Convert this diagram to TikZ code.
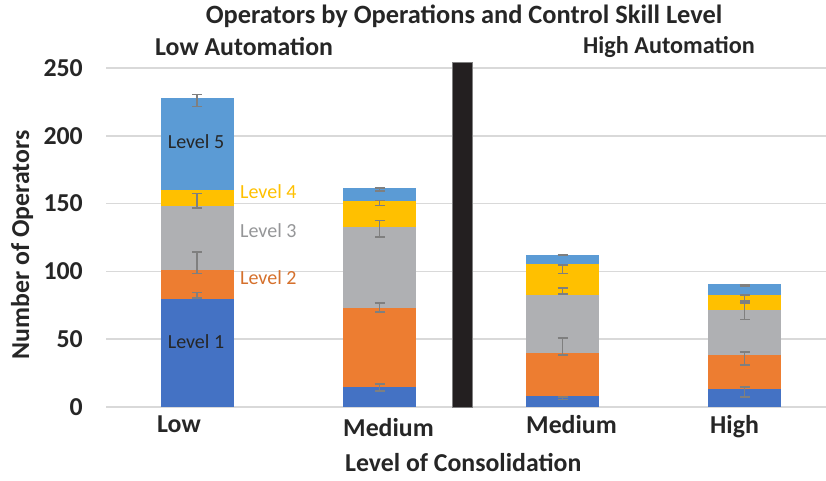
\documentclass[tikz,border=0pt]{standalone}
\usepackage{fontspec}
\setmainfont{Carlito}
\usetikzlibrary{arrows.meta,positioning}
\definecolor{lvlone}{HTML}{4472C4}
\definecolor{lvltwo}{HTML}{ED7D31}
\definecolor{lvlthree}{HTML}{AFB0B3}
\definecolor{lvlfour}{HTML}{FFC000}
\definecolor{lvlfive}{HTML}{5B9BD5}
\definecolor{gridgray}{HTML}{D9D9D9}
\definecolor{errgray}{HTML}{7F7F7F}
\definecolor{inktext}{HTML}{262626}
\definecolor{sepblack}{HTML}{231F20}

\begin{document}
\begin{tikzpicture}[
x=1pt,y=-1pt,
big/.style={
	font=\fontsize{25.8}{28}\selectfont\bfseries,
	text=inktext,
	inner sep=0pt
},
lvl/.style={
	font=\fontsize{20}{22}\selectfont,
	inner sep=0pt
},
grid/.style={
	draw=gridgray,
	line width=1.5pt
},
errbar/.style={
	draw=errgray,
	line width=1.6pt,
	{Bar[width=10pt]}-{Bar[width=10pt]}
}
]
\useasboundingbox (0,0) rectangle (826,480);

% axes and grid, data units inside the scope
\begin{scope}[shift={(0,407)},y=1.356pt]
\foreach \v in {0,50,...,250}
{
\draw[grid] (106,\v) -- (826,\v);
\node[big,anchor=east] (t\v) at (83,\v) {\v};
}

\foreach \c/\a/\b/\d/\e/\f in {197/80/101/148/160/228,379.5/15/73/133/152/161.5,562.5/8/40/82.6/105.5/112,744.5/13.3/38/71.5/82.6/90.7}
{
\fill[lvlone] (\c-36.5,0) rectangle (\c+36.5,\a);
\fill[lvltwo] (\c-36.5,\a) rectangle (\c+36.5,\b);
\fill[lvlthree] (\c-36.5,\b) rectangle (\c+36.5,\d);
\fill[lvlfour] (\c-36.5,\d) rectangle (\c+36.5,\e);
\fill[lvlfive] (\c-36.5,\e) rectangle (\c+36.5,\f);
}

\foreach \c/\lo/\hi in {197/221/231,197/146/158,197/98/115,197/80/85,
379.5/158.5/162,379.5/148/153,379.5/125/138,379.5/69.3/77.4,379.5/11/17.7,
562.5/111.3/113,562.5/98/105.5,562.5/82.6/88.5,562.5/37.6/51.6,562.5/5/8,
744.5/88.5/90.7,744.5/77.4/83.3,744.5/64/77.4,744.5/30.2/41.3,744.5/6.6/15.5}
\draw[errbar] (\c,\lo) -- (\c,\hi);

%\draw[grid] (106,0) -- (826,0);
\fill[sepblack,draw=gray,line width=1pt] (452,0) rectangle (472,254);
\end{scope}

\node[lvl,text=inktext] (lfive) at (196,142) {Level 5};
\node[lvl,text=lvlfour,anchor=west] (lfour) at (240,192) {Level 4};
\node[lvl,text=lvlthree!85!black,anchor=west] (lthree) at (240,231) {Level 3};
\node[lvl,text=lvltwo!90!black,anchor=west] (ltwo) at (240,278) {Level 2};
\node[lvl,text=inktext] (lone) at (196,342) {Level 1};

\node[big,font=\fontsize{26.4}{28}\selectfont\bfseries] (title) at (464,16) {Operators by Operations and Control Skill Level};
\node[big,anchor=west] (lowauto) at (155,47) {Low Automation};
\node[big,anchor=west,font=\fontsize{24.2}{28}\selectfont\bfseries] (highauto) at (583,47) {High Automation};

\node[big,anchor=base west] (clow) at (157,432) {Low};
\node[big,anchor=base west] (cmedl) at (343,436) {Medium};
\node[big,anchor=base west] (cmedh) at (526,433) {Medium};
\node[big,anchor=base west] (chigh) at (710,433) {High};

\node[big,anchor=base west] (xlabel) at (345,471) {Level of Consolidation};
\node[big,rotate=90] (ylabel) at (22,245) {Number of Operators};
\end{tikzpicture}
\end{document}
